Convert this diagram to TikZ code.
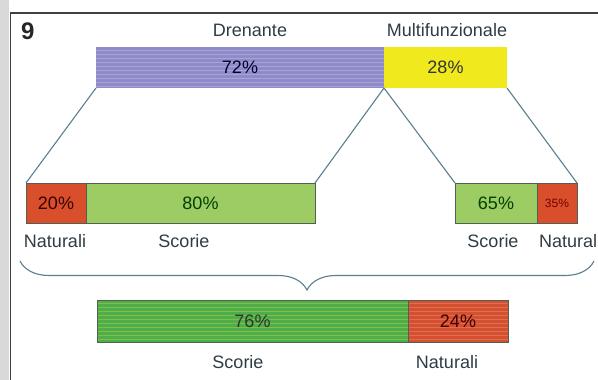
\documentclass[tikz,border=0pt]{standalone}
\usepackage{fontspec}
\setmainfont{Liberation Sans}
\usetikzlibrary{decorations.pathreplacing}
\definecolor{purp}{HTML}{8F8BCB}
\definecolor{yel}{HTML}{EFE91E}
\definecolor{redb}{HTML}{DA4F2B}
\definecolor{lgreen}{HTML}{9DCB64}
\definecolor{dgreen}{HTML}{4FAE4B}
\definecolor{bred}{HTML}{D4502E}
\definecolor{conn}{HTML}{5A7F8E}
\definecolor{edge}{HTML}{4F6153}
\definecolor{labc}{HTML}{2E3D45}
\definecolor{strip}{HTML}{D9D9D9}
\tikzset{
  bar/.style={rectangle, inner sep=0pt, outer sep=0pt, draw=edge, line width=0.8pt, anchor=north west, font=\fontsize{18}{19}\selectfont},
  stripes/.style 2 args={path picture={\foreach \k in {3,7,...,44}{\draw[#1, line width=0.7pt, opacity=#2] ([yshift=-\k pt]path picture bounding box.north west) -- ([yshift=-\k pt]path picture bounding box.north east);}}},
  link/.style={draw=conn, line width=1.1pt},
  lab/.style={text=labc, font=\fontsize{18}{19}\selectfont, inner sep=0pt},
}
\begin{document}
\begin{tikzpicture}[x=1pt,y=-1pt]
\useasboundingbox (0,0) rectangle (598,380);
\fill[white] (0,0) rectangle (598,380);
\fill[strip] (0,0) rectangle (9,380);
\draw[black!75, line width=1.5pt] (10.5,380) -- (10.5,13) -- (598,13);
\node[anchor=north west, inner sep=0pt, font=\fontsize{24}{24}\selectfont\bfseries, text=black!85] (num) at (21,23) {9};
% top bar
\node[bar, draw=none, fill=purp, stripes={white}{0.22}, minimum width=288pt, minimum height=41pt, text=black!75!blue!60!black] (drn) at (96,47) {72\%};
\node[bar, draw=none, fill=yel, minimum width=123pt, minimum height=41pt, text=black!80] (mul) at (384,47) {28\%};
\node[lab] (ldrn) at (250,30) {Drenante};
\node[lab] (lmul) at (447,30) {Multifunzionale};
% left group
\node[bar, fill=redb, minimum width=60pt, minimum height=40pt, text=black!80!red] (natL) at (26,183) {20\%};
\node[bar, fill=lgreen, minimum width=229pt, minimum height=40pt, text=green!25!black] (scoL) at (86,183) {80\%};
% right group
\node[bar, fill=lgreen, minimum width=82pt, minimum height=40pt, text=green!25!black] (scoR) at (455,183) {65\%};
\node[bar, fill=redb, minimum width=40pt, minimum height=40pt, text=red!45!black, font=\fontsize{12}{13}\selectfont] (natR) at (537,183) {35\%};
% connectors
\draw[link] (drn.south west) -- (natL.north west);
\draw[link] (drn.south east) -- (scoL.north east);
\draw[link] (drn.south east) -- (scoR.north west);
\draw[link] (mul.south east) -- (natR.north east);
% labels
\node[lab] (lnatL) at (55,241) {Naturali};
\node[lab] (lscoL) at (184,241) {Scorie};
\node[lab] (lscoR) at (493,241) {Scorie};
\node[lab, anchor=west] (lnatR) at (539,241) {Natural};
% brace
\coordinate (bR) at (594,261);
\coordinate (bL) at (20,261);
\draw[conn, line width=1.1pt, decorate, decoration={brace, amplitude=29pt}] (bR) -- (bL);
% bottom bar
\node[bar, fill=dgreen, stripes={lgreen!60!yellow}{0.4}, minimum width=311pt, minimum height=42pt, text=black!80] (scoB) at (97,300) {76\%};
\node[bar, fill=bred, stripes={red!30!white}{0.3}, minimum width=100pt, minimum height=42pt, text=black!75!red] (natB) at (408,300) {24\%};
\node[lab] (lscoB) at (238,362) {Scorie};
\node[lab] (lnatB) at (447,362) {Naturali};
\end{tikzpicture}
\end{document}
